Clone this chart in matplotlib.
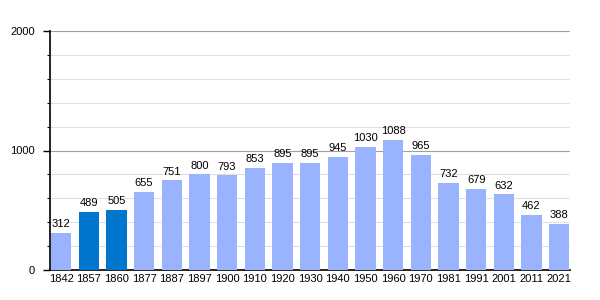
import matplotlib
matplotlib.use("Agg")
import matplotlib.pyplot as plt
from matplotlib.ticker import MultipleLocator

years = ["1842", "1857", "1860", "1877", "1887", "1897", "1900", "1910", "1920", "1930",
         "1940", "1950", "1960", "1970", "1981", "1991", "2001", "2011", "2021"]
population = [312, 489, 505, 655, 751, 800, 793, 853, 895, 895,
              945, 1030, 1088, 965, 732, 679, 632, 462, 388]
highlight = {"1857", "1860"}

plt.rcParams['font.family'] = ['Liberation Sans', 'DejaVu Sans']

fig = plt.figure(figsize=(6, 3), dpi=100)
ax = fig.add_axes([50/600, 30/300, 520/600, 239/300])

colors = ["#0077cc" if y in highlight else "#99b3ff" for y in years]
x = list(range(len(years)))
ax.bar(x, population, width=0.73, color=colors, zorder=3)
for xi, v in zip(x, population):
    ax.text(xi, v + 30, str(v), ha="center", va="bottom", fontsize=8, zorder=4)

ax.set_xlim(-0.4, 18.39)
ax.set_ylim(0, 2000)
ax.set_xticks(x)
ax.set_xticklabels(years, fontsize=8)
ax.tick_params(axis="x", length=0, pad=3)
ax.yaxis.set_major_locator(MultipleLocator(1000))
ax.yaxis.set_minor_locator(MultipleLocator(200))
ax.tick_params(axis="y", which="major", length=5, width=1, labelsize=8, pad=6)
ax.tick_params(axis="y", which="minor", length=2.5, width=0.8)
ax.grid(axis="y", which="minor", color="#e0e0e0", linewidth=0.8, zorder=0)
ax.grid(axis="y", which="major", color="#a0a0a0", linewidth=0.8, zorder=0)
for s in ["top", "right"]:
    ax.spines[s].set_visible(False)
ax.spines["left"].set_linewidth(1.2)
ax.spines["bottom"].set_linewidth(1.2)

fig.savefig("out.png", dpi=100)
